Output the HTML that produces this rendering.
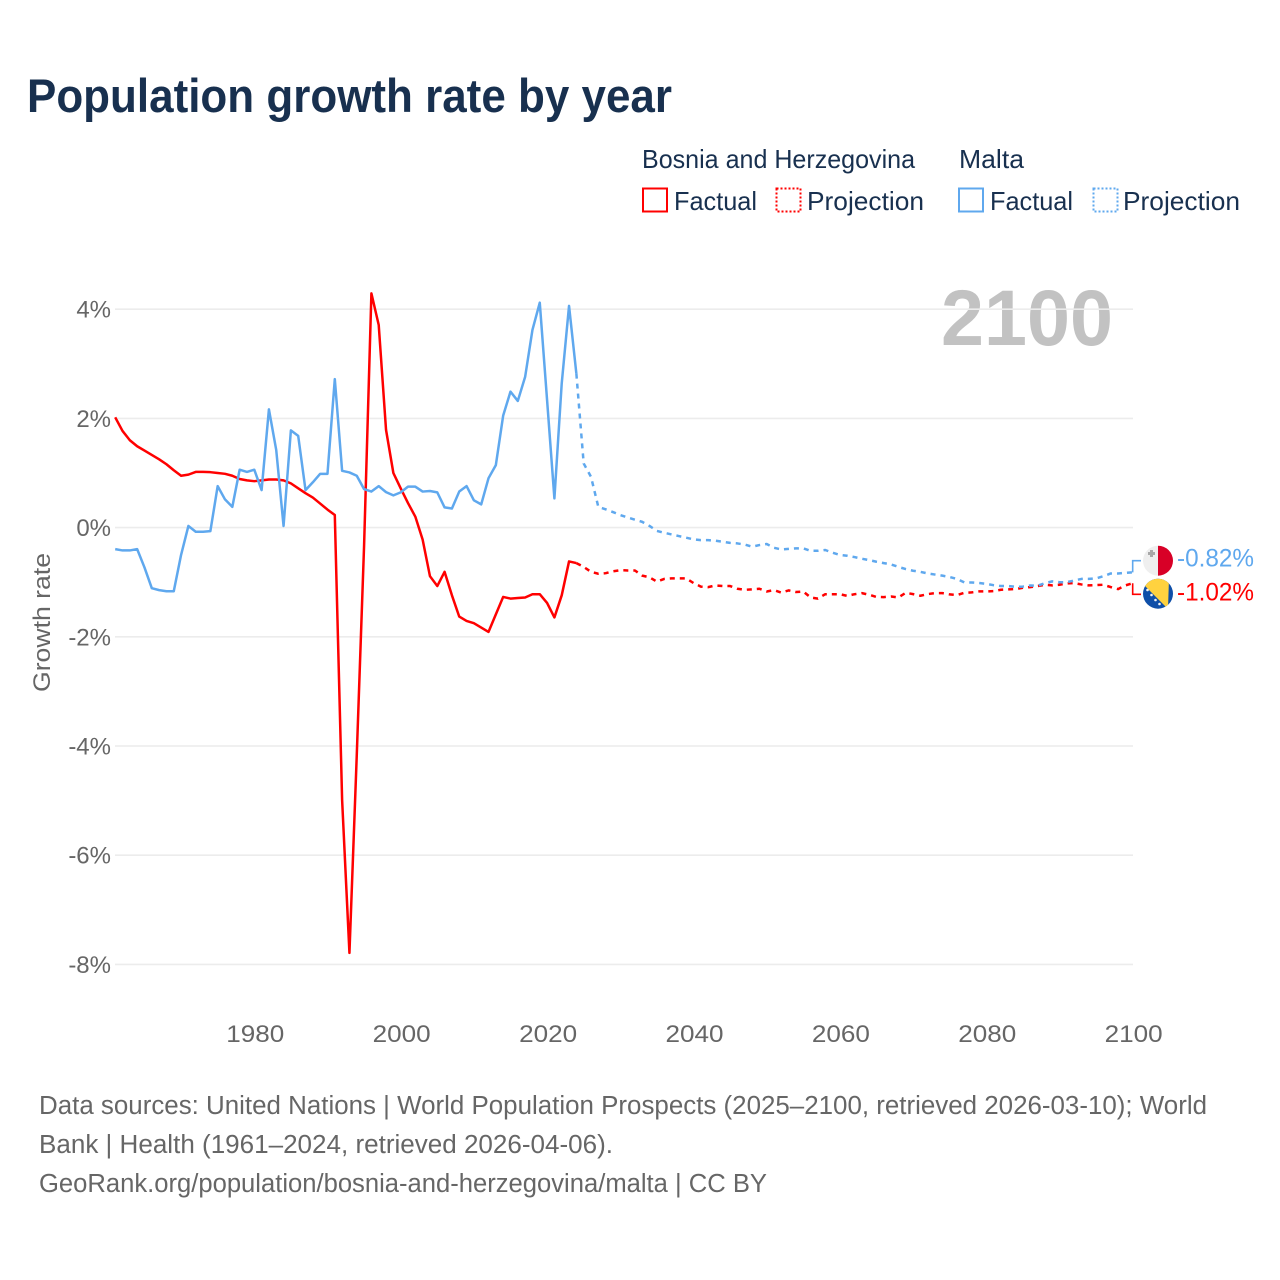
<!DOCTYPE html>
<html lang="en">
<head>
<meta charset="utf-8">
<title>Population growth rate by year</title>
<style>
html,body{margin:0;padding:0;background:#fff}
svg{display:block}
text{font-family:"Liberation Sans",sans-serif}
</style>
</head>
<body>
<svg id="chart" xmlns="http://www.w3.org/2000/svg" width="1280" height="1280" viewBox="0 0 1280 1280">
  <defs>
    <clipPath id="malta-clip"><circle cx="1158" cy="560.7" r="15"/></clipPath>
    <clipPath id="bosnia-clip"><circle cx="1158" cy="593.7" r="15"/></clipPath>
  </defs>
  <rect width="1280" height="1280" fill="#fff"/>
  <text x="27" y="112" font-size="47" font-weight="700" fill="#18304f" textLength="645" lengthAdjust="spacingAndGlyphs">Population growth rate by year</text>

  <g font-size="26" fill="#18304f">
    <text x="642" y="168" textLength="273" lengthAdjust="spacingAndGlyphs">Bosnia and Herzegovina</text>
    <text x="959" y="168" textLength="65" lengthAdjust="spacingAndGlyphs">Malta</text>
    <g>
      <rect x="643" y="188.5" width="24" height="23" fill="none" stroke="#ff0000" stroke-width="2"/>
      <text x="674" y="210" textLength="83" lengthAdjust="spacingAndGlyphs">Factual</text>
    </g>
    <g>
      <rect x="776.5" y="188.5" width="24" height="23" fill="none" stroke="#ff0000" stroke-width="2" stroke-dasharray="2 2"/>
      <text x="807" y="210" textLength="117" lengthAdjust="spacingAndGlyphs">Projection</text>
    </g>
    <g>
      <rect x="959" y="188.5" width="24" height="23" fill="none" stroke="#5fa8ee" stroke-width="2"/>
      <text x="990" y="210" textLength="83" lengthAdjust="spacingAndGlyphs">Factual</text>
    </g>
    <g>
      <rect x="1093.5" y="188.5" width="24" height="23" fill="none" stroke="#5fa8ee" stroke-width="2" stroke-dasharray="2 2"/>
      <text x="1123" y="210" textLength="117" lengthAdjust="spacingAndGlyphs">Projection</text>
    </g>
  </g>

  <text x="941" y="345" font-size="79" font-weight="700" fill="#c2c2c2" textLength="172" lengthAdjust="spacingAndGlyphs">2100</text>

  <g id="grid"></g>
  <g id="y-axis"></g>
  <g id="x-axis"></g>
  <text transform="translate(50,622.5) rotate(-90)" text-anchor="middle" font-size="24" fill="#666" textLength="139" lengthAdjust="spacingAndGlyphs">Growth rate</text>
  <g id="series"></g>

  <g clip-path="url(#malta-clip)">
    <rect x="1143" y="545" width="15" height="31" fill="#efefef"/>
    <rect x="1158" y="545" width="16" height="31" fill="#d80027"/>
    <path d="M1150 550h3v2h2v3h-2v2h-3v-2h-2v-3h2z" fill="#a8a8a8"/>
  </g>
  <g clip-path="url(#bosnia-clip)">
    <rect x="1143" y="578" width="31" height="31" fill="#0f4fa8"/>
    <path d="M1143 584L1168 609L1169 578L1143 578Z" fill="#ffd23f"/>
    <g fill="#f2f2f2">
      <circle cx="1147.5" cy="590" r="1.3"/><circle cx="1151.5" cy="595" r="1.3"/><circle cx="1155.5" cy="600" r="1.3"/><circle cx="1159.5" cy="604" r="1.3"/>
    </g>
  </g>

  <g id="end-labels"></g>

  <g font-size="25.5" fill="#666">
    <text x="39" y="1114" textLength="1168" lengthAdjust="spacingAndGlyphs">Data sources: United Nations | World Population Prospects (2025–2100, retrieved 2026-03-10); World</text>
    <text x="39" y="1153" textLength="574" lengthAdjust="spacingAndGlyphs">Bank | Health (1961–2024, retrieved 2026-04-06).</text>
    <text x="39" y="1192" textLength="728" lengthAdjust="spacingAndGlyphs">GeoRank.org/population/bosnia-and-herzegovina/malta | CC BY</text>
  </g>
</svg>
<script>
const yTicks = [4, 2, 0, -2, -4, -6, -8];
const xTicks = [1980, 2000, 2020, 2040, 2060, 2080, 2100];

const factualYears = [1961,1962,1963,1964,1965,1966,1967,1968,1969,1970,1971,1972,1973,1974,1975,1976,1977,1978,1979,1980,1981,1982,1983,1984,1985,1986,1987,1988,1989,1990,1991,1992,1993,1994,1995,1996,1997,1998,1999,2000,2001,2002,2003,2004,2005,2006,2007,2008,2009,2010,2011,2012,2013,2014,2015,2016,2017,2018,2019,2020,2021,2022,2023,2024];
const projectionYears = [2024,2025,2026,2027,2028,2029,2030,2031,2032,2033,2034,2035,2036,2037,2038,2039,2040,2041,2042,2043,2044,2045,2046,2047,2048,2049,2050,2051,2052,2053,2054,2055,2056,2057,2058,2059,2060,2061,2062,2063,2064,2065,2066,2067,2068,2069,2070,2071,2072,2073,2074,2075,2076,2077,2078,2079,2080,2081,2082,2083,2084,2085,2086,2087,2088,2089,2090,2091,2092,2093,2094,2095,2096,2097,2098,2099,2100];

const bosniaFactual = [2.02,1.77,1.60,1.49,1.41,1.33,1.25,1.16,1.05,0.95,0.97,1.02,1.02,1.015,1.00,0.985,0.95,0.89,0.865,0.85,0.865,0.88,0.88,0.865,0.81,0.72,0.63,0.55,0.44,0.33,0.23,-4.99,-7.79,-4.17,-0.33,4.29,3.71,1.79,1.00,0.72,0.45,0.20,-0.22,-0.89,-1.07,-0.81,-1.24,-1.63,-1.71,-1.75,-1.83,-1.91,-1.59,-1.27,-1.30,-1.29,-1.28,-1.22,-1.22,-1.38,-1.645,-1.24,-0.62,-0.65];
const bosniaProjection = [-0.65,-0.72,-0.81,-0.845,-0.835,-0.80,-0.78,-0.785,-0.785,-0.88,-0.91,-0.99,-0.94,-0.93,-0.93,-0.93,-1.015,-1.08,-1.09,-1.06,-1.07,-1.07,-1.12,-1.14,-1.13,-1.12,-1.17,-1.145,-1.19,-1.15,-1.18,-1.17,-1.28,-1.30,-1.22,-1.22,-1.22,-1.25,-1.22,-1.20,-1.23,-1.27,-1.273,-1.261,-1.279,-1.194,-1.218,-1.248,-1.218,-1.20,-1.20,-1.224,-1.236,-1.194,-1.187,-1.169,-1.169,-1.163,-1.139,-1.132,-1.126,-1.102,-1.09,-1.071,-1.047,-1.059,-1.047,-1.023,-1.016,-1.041,-1.059,-1.053,-1.047,-1.09,-1.126,-1.059,-1.02];
const maltaFactual = [-0.394,-0.418,-0.418,-0.394,-0.73,-1.11,-1.145,-1.165,-1.165,-0.50,0.03,-0.076,-0.076,-0.065,0.76,0.516,0.38,1.06,1.02,1.06,0.687,2.165,1.42,0.03,1.78,1.68,0.687,0.83,0.985,0.985,2.72,1.04,1.01,0.95,0.705,0.66,0.76,0.65,0.59,0.645,0.75,0.75,0.66,0.67,0.645,0.37,0.35,0.66,0.76,0.50,0.425,0.905,1.145,2.05,2.49,2.32,2.76,3.62,4.12,2.335,0.535,2.64,4.06,2.82];
const maltaProjection = [2.82,1.175,0.93,0.38,0.335,0.285,0.23,0.185,0.145,0.105,0.03,-0.06,-0.095,-0.125,-0.155,-0.185,-0.215,-0.23,-0.23,-0.24,-0.26,-0.28,-0.29,-0.31,-0.35,-0.32,-0.30,-0.37,-0.40,-0.39,-0.38,-0.38,-0.425,-0.425,-0.41,-0.46,-0.50,-0.515,-0.54,-0.57,-0.595,-0.625,-0.65,-0.675,-0.72,-0.76,-0.79,-0.81,-0.84,-0.86,-0.88,-0.905,-0.94,-1.005,-1.005,-1.015,-1.03,-1.055,-1.07,-1.07,-1.085,-1.08,-1.06,-1.065,-1.02,-0.985,-1.00,-1.00,-0.97,-0.94,-0.94,-0.93,-0.89,-0.84,-0.84,-0.83,-0.82];

const endLabels = ["-0.82%", "-1.02%"];

const NS = "http://www.w3.org/2000/svg";
const BLUE = "#5fa8ee";
const RED = "#ff0000";
const xScale = function (year) { return 115.2 + (year - 1961) * 7.32; };
const yScale = function (v) { return 527.6 - v * 54.6; };

function make(tag, attrs, parent) {
  const el = document.createElementNS(NS, tag);
  Object.keys(attrs).forEach(function (k) { el.setAttribute(k, attrs[k]); });
  parent.appendChild(el);
  return el;
}
function linePath(years, values) {
  return values.map(function (v, i) {
    return (i ? "L" : "M") + xScale(years[i]).toFixed(2) + " " + yScale(v).toFixed(2);
  }).join("");
}

const gridG = document.getElementById("grid");
const yAxisG = document.getElementById("y-axis");
yTicks.forEach(function (t) {
  const ln = make("line", { x1: 115, x2: 1133, y1: yScale(t), y2: yScale(t), stroke: "#ececec", "stroke-width": 1.6 }, gridG);
  
  
  const lb = make("text", { x: 111, y: yScale(t) + 8.5, "text-anchor": "end", "font-size": 24, fill: "#666" }, yAxisG);
  
  
  lb.textContent = t + "%";
});

const xAxisG = document.getElementById("x-axis");
xTicks.forEach(function (t) {
  const lb = make("text", { x: xScale(t) + 1, y: 1042, "text-anchor": "middle", "font-size": 24, fill: "#666", textLength: 58, lengthAdjust: "spacingAndGlyphs" }, xAxisG);
  
  
  lb.textContent = t;
});

const seriesG = document.getElementById("series");
function drawSeries(slug, color, factual, projection, flagY) {
  const common = { fill: "none", stroke: color, "stroke-width": 2.5, "stroke-linejoin": "round" };
  const a = make("path", Object.assign({ d: linePath(factualYears, factual) }, common), seriesG);
  
  
  const b = make("path", Object.assign({ d: linePath(projectionYears, projection), "stroke-dasharray": "5 5" }, common), seriesG);
  
  
  const endX = xScale(2100);
  const endY = yScale(projection[projection.length - 1]);
  const c = make("path", { d: "M" + endX + " " + endY + "V" + flagY + "H1141", fill: "none", stroke: color, "stroke-width": 1.6 }, seriesG);
  
  
}
drawSeries("bosnia", RED, bosniaFactual, bosniaProjection, 594.3);
drawSeries("malta", BLUE, maltaFactual, maltaProjection, 560.7);

const endG = document.getElementById("end-labels");
const maltaEnd = make("text", { x: 1177, y: 566.5, "font-size": 25, fill: BLUE, textLength: 77, lengthAdjust: "spacingAndGlyphs" }, endG);


maltaEnd.textContent = endLabels[0];
const bosniaEnd = make("text", { x: 1177, y: 600.5, "font-size": 25, fill: RED, textLength: 77, lengthAdjust: "spacingAndGlyphs" }, endG);


bosniaEnd.textContent = endLabels[1];
</script>
</body>
</html>
